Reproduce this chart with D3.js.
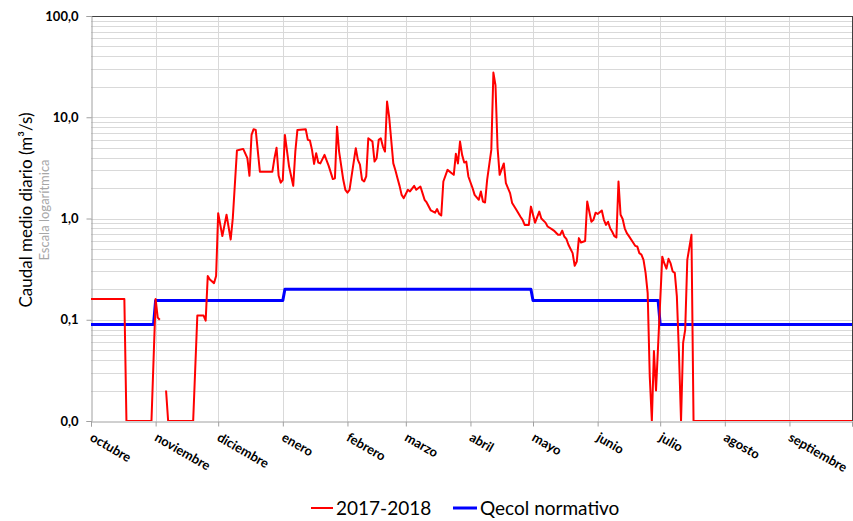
<!DOCTYPE html>
<html>
<head>
<meta charset="utf-8">
<script src="https://cdn.jsdelivr.net/npm/d3@7/dist/d3.min.js"></script>
<style>
  html, body { margin: 0; padding: 0; background: #fff; }
  svg { display: block; }
  text { font-family: Lato, "Open Sans", "Liberation Sans", sans-serif; }
</style>
</head>
<body>
<svg id="chart" width="853" height="521"></svg>
<script>
// Daily mean flow, hydrological year 2017-2018 (days counted from 1 Oct 2017, m³/s).
// Zero-flow days are plotted at the axis floor (0.01); null marks missing days.
const flowDay = [
  0, 16, 17, 29, 31, 32, 33, 34, 36, 37, 49, 51, 54, 55, 56, 57, 59, 60, 61, 63,
  65, 67, 68, 70, 73, 75, 76, 77, 78, 79, 81, 87, 88, 89, 90, 91, 92, 93, 95, 97,
  98, 99, 103, 104, 105, 106, 107, 108, 109, 110, 112, 114, 116, 117, 118, 119, 121, 122, 123, 124,
  127, 128, 129, 130, 131, 132, 133, 135, 136, 137, 138, 139, 140, 141, 142, 143, 145, 146, 147, 148,
  149, 150, 152, 153, 155, 156, 158, 159, 160, 161, 163, 165, 166, 167, 168, 169, 171, 173, 174, 175,
  176, 177, 178, 179, 180, 181, 183, 184, 186, 187, 188, 189, 190, 192, 193, 194, 195, 196, 198, 199,
  201, 202, 204, 206, 207, 208, 210, 211, 213, 215, 216, 218, 219, 221, 222, 224, 225, 226, 227, 228,
  229, 231, 232, 233, 234, 235, 237, 238, 240, 241, 242, 243, 245, 246, 247, 248, 249, 250, 251, 252,
  253, 254, 255, 256, 257, 258, 260, 261, 262, 263, 264, 265, 266, 267, 268, 269, 270, 271, 274, 275,
  276, 277, 278, 279, 280, 281, 282, 283, 284, 285, 286, 288, 289, 365
];
const flowValue = [
  0.16, 0.16, 0.01, 0.01, 0.16, 0.105, 0.1, null, 0.02, 0.01, 0.01, 0.11, 0.11, 0.098, 0.27, 0.25, 0.23, 0.27, 1.13, 0.67,
  1.09, 0.62, 1.0, 4.7, 4.87, 3.94, 2.64, 6.69, 7.62, 7.5, 2.9, 2.9, 3.94, 5.0, 2.64, 2.26, 2.41, 6.69, 3.26, 2.1,
  4.58, 7.5, 7.6, 5.98, 5.9, 4.76, 3.46, 4.42, 3.57, 3.5, 4.25, 3.31, 2.45, 2.5, 8.08, 4.58, 2.41, 1.92, 1.8, 1.92,
  4.95, 3.79, 3.4, 2.41, 2.32, 2.6, 6.21, 5.75, 3.65, 3.94, 5.98, 6.2, 5.13, 4.58, 14.3, 10.1, 3.5, 3.0, 2.5, 2.1,
  1.71, 1.59, 1.92, 1.85, 2.1, 1.92, 2.07, 1.78, 1.53, 1.44, 1.2, 1.14, 1.24, 1.11, 1.07, 2.32, 3.02, 2.8, 2.7, 4.35,
  3.5, 5.75, 4.25, 3.57, 3.65, 2.6, 2.0, 1.71, 1.53, 1.85, 1.47, 1.44, 2.41, 4.76, 27.6, 20.8, 5.0, 2.7, 3.5, 2.23,
  1.78, 1.42, 1.22, 1.04, 0.97, 0.865, 0.865, 1.31, 0.91, 1.17, 1.0, 0.91, 0.834, 0.785, 0.76, 0.69, 0.69, 0.76, 0.664, 0.63,
  0.55, 0.455, 0.341, 0.376, 0.64, 0.58, 0.6, 1.47, 0.93, 0.97, 1.14, 1.11, 1.2, 0.97, 0.865, 0.93, 0.8, 0.74, 0.67, 0.65,
  2.32, 1.09, 0.99, 0.8, 0.716, 0.67, 0.58, 0.537, 0.53, 0.455, 0.44, 0.39, 0.29, 0.183, 0.0275, 0.01, 0.049, 0.02, 0.42, 0.36,
  0.32, 0.4, 0.36, 0.3, 0.29, 0.17, 0.047, 0.01, 0.059, 0.08, 0.39, 0.69, 0.01, 0.01
];

// Regulatory ecological flow (Qecol), monthly steps.
const qecolDay   = [0, 30, 31, 92, 93, 211, 212, 272, 273, 365];
const qecolValue = [0.09, 0.09, 0.155, 0.155, 0.2, 0.2, 0.155, 0.155, 0.09, 0.09];

const monthLabels = ["octubre", "noviembre", "diciembre", "enero", "febrero", "marzo",
                     "abril", "mayo", "junio", "julio", "agosto", "septiembre"];
const yTickValues = [0.01, 0.1, 1, 10, 100];
const seriesNames = ["2017-2018", "Qecol normativo"];
const seriesColors = ["#ff0000", "#0000ff"];

const svg = d3.select("#chart");
const plotL = 91, plotR = 852, plotT = 16, plotB = 421;
const start = new Date(2017, 9, 1), end = new Date(2018, 9, 1);

const x = d3.scaleTime().domain([start, end]).range([plotL, plotR]);
const y = d3.scaleLog().domain([0.01, 100]).range([plotB, plotT]);
const dayDate = d => d3.timeDay.offset(start, d);

svg.append("defs").append("clipPath").attr("id", "plot-clip")
  .append("rect").attr("x", plotL).attr("y", plotT)
  .attr("width", plotR - plotL + 1).attr("height", plotB - plotT);

// Minor + major horizontal grid
const gridVals = [];
for (let e = -2; e < 2; e++) {
  for (let k = 1; k <= 9; k++) {
    const v = k * Math.pow(10, e);
    if (v > 0.0101) gridVals.push(+v.toPrecision(3));
  }
}
gridVals.push(100);
svg.append("g")
  .selectAll("line").data(gridVals).join("line")
  .attr("x1", plotL).attr("x2", plotR)
  .attr("y1", d => Math.round(y(d)) + 0.5).attr("y2", d => Math.round(y(d)) + 0.5)
  .attr("stroke", "#d9d9d9").attr("stroke-width", 1);

// Vertical month grid
const months = d3.timeMonth.range(start, end);
svg.append("g")
  .selectAll("line").data(months.slice(1)).join("line")
  .attr("x1", d => Math.round(x(d)) + 0.5).attr("x2", d => Math.round(x(d)) + 0.5)
  .attr("y1", plotT).attr("y2", plotB)
  .attr("stroke", "#d9d9d9").attr("stroke-width", 1);

// Plot frame: dark top/right, grey axes on left/bottom
svg.append("line").attr("x1", plotL).attr("x2", plotR + 0.5).attr("y1", plotT + 0.5).attr("y2", plotT + 0.5)
  .attr("stroke", "#404040");
svg.append("line").attr("x1", plotR + 0.5).attr("x2", plotR + 0.5).attr("y1", plotT).attr("y2", plotB)
  .attr("stroke", "#404040");

// Y axis
const yAxis = d3.axisLeft(y).tickValues(yTickValues).tickSize(5).tickPadding(8)
  .tickFormat(d => d.toFixed(1).replace(".", ","));
const gy = svg.append("g").attr("transform", `translate(${plotL + 0.5},0)`).call(yAxis);
gy.select(".domain").attr("stroke", "#a0a0a0");
gy.selectAll(".tick line").attr("stroke", "#a0a0a0");
gy.selectAll(".tick text").attr("font-family", "Lato, sans-serif").attr("font-size", 13)
  .attr("font-weight", "bold").attr("fill", "#000");

// X axis
const xAxis = d3.axisBottom(x).tickValues(months.concat([end])).tickSize(5).tickFormat("");
const gx = svg.append("g").attr("transform", `translate(0,${plotB + 0.5})`).call(xAxis);
gx.select(".domain").attr("stroke", "#a0a0a0");
gx.selectAll(".tick line").attr("stroke", "#a0a0a0");
svg.append("g").selectAll("text").data(months).join("text")
  .attr("transform", d => `translate(${x(d) - 2},${plotB + 19}) rotate(30)`)
  .attr("font-size", 13).attr("font-weight", "bold").attr("fill", "#000")
  .text((d, i) => monthLabels[i]);

// Series
const flowData = flowDay.map((d, i) => ({ date: dayDate(d), v: flowValue[i] }));
const qecolData = qecolDay.map((d, i) => ({ date: dayDate(d), v: qecolValue[i] }));
const line = d3.line().defined(d => d.v != null).x(d => x(d.date)).y(d => y(d.v));

const series = svg.append("g").attr("clip-path", "url(#plot-clip)");
series.append("path").datum(qecolData).attr("d", line)
  .attr("fill", "none").attr("stroke", seriesColors[1]).attr("stroke-width", 3)
  .attr("stroke-linejoin", "round");
series.append("path").datum(flowData).attr("d", line)
  .attr("fill", "none").attr("stroke", seriesColors[0]).attr("stroke-width", 2)
  .attr("stroke-linejoin", "round");

// Axis titles
svg.append("text").attr("transform", "translate(32,210) rotate(-90)")
  .attr("text-anchor", "middle").attr("font-size", 17).attr("fill", "#000")
  .text("Caudal medio diario (m³/s)");
svg.append("text").attr("transform", "translate(49,210) rotate(-90)")
  .attr("text-anchor", "middle").attr("font-size", 13).attr("fill", "#a6a6a6")
  .text("Escala logarítmica");

// Legend
const legendX = [311, 453];
const legendW = [22, 24];
const legend = svg.append("g");
seriesNames.forEach((name, i) => {
  legend.append("line").attr("x1", legendX[i]).attr("x2", legendX[i] + legendW[i])
    .attr("y1", 508).attr("y2", 508)
    .attr("stroke", seriesColors[i]).attr("stroke-width", i === 0 ? 2 : 3);
  legend.append("text").attr("x", legendX[i] + legendW[i] + 3).attr("y", 515)
    .attr("font-size", 19).attr("fill", "#000").text(name);
});
</script>
</body>
</html>
